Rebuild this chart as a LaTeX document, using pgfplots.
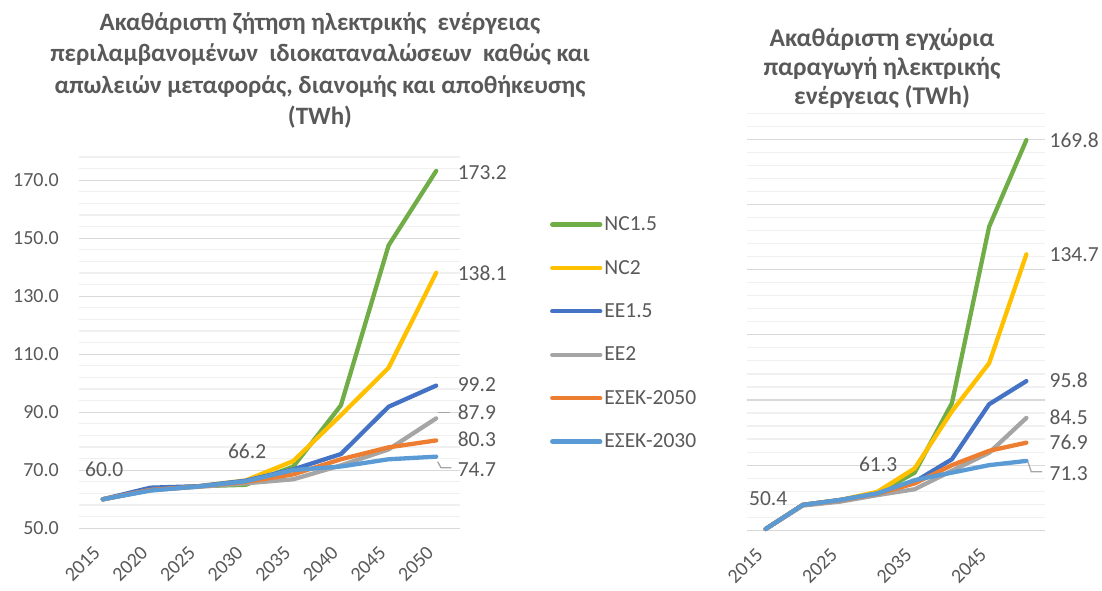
\documentclass[border=0pt]{standalone}
\usepackage{fontspec}
\setmainfont{Carlito}
\usepackage{pgfplots}
\pgfplotsset{compat=1.18}
\definecolor{txt}{HTML}{595959}
\definecolor{gmaj}{HTML}{D9D9D9}
\definecolor{gmin}{HTML}{F0F0F0}
\definecolor{cG}{HTML}{70AD47}
\definecolor{cY}{HTML}{FFC000}
\definecolor{cB}{HTML}{4472C4}
\definecolor{cGr}{HTML}{A5A5A5}
\definecolor{cO}{HTML}{ED7D31}
\definecolor{cLB}{HTML}{5B9BD5}
\definecolor{lead}{HTML}{A6A6A6}
\tikzset{dl/.style={font=\fontsize{21.5}{25}\selectfont, text=txt}}
\pgfplotsset{
  common/.style={
    anchor=south west, scale only axis,
    xmin=-0.5, xmax=7.5, ymin=50, ymax=178,
    axis line style={draw=none}, major tick length=0pt, minor tick length=0pt,
    ytick={50,70,...,170},
    minor ytick={54,58,62,66,74,78,82,86,94,98,102,106,114,118,122,126,134,138,142,146,154,158,162,166,174,178},
    ymajorgrids, yminorgrids,
    major grid style={draw=gmaj, line width=1.2pt},
    minor grid style={draw=gmin, line width=1.2pt},
    tick label style={font=\fontsize{20}{24}\selectfont, text=txt},
    x tick label style={anchor=east, inner sep=0pt, xshift=-6pt, yshift=-21pt, rotate=45},
    y tick label style={anchor=east, inner sep=0pt, xshift=-20pt},
    yticklabel style={/pgf/number format/.cd, fixed, fixed zerofill, precision=1, assume math mode=true},
    every axis plot/.append style={line width=4.3pt, line cap=round, line join=round, no marks},
    clip=false,
  },
}
\begin{document}
\begin{tikzpicture}
\path[use as bounding box] (0pt,0pt) rectangle (1102pt,590pt);
% left title
\node[font=\bfseries\fontsize{25}{31.5}\selectfont, text=txt, align=center, anchor=north] at (320pt,581pt)
 {Ακαθάριστη ζήτηση ηλεκτρικής\ \ ενέργειας\\ περιλαμβανομένων\ \ ιδιοκαταναλώσεων\ \ καθώς και\\ απωλειών μεταφοράς, διανομής και αποθήκευσης\\ (TWh)};
% right title
\node[font=\bfseries\fontsize{25.5}{29}\selectfont, text=txt, align=center, anchor=north] at (882pt,565pt)
 {Ακαθάριστη εγχώρια\\ παραγωγή ηλεκτρικής\\ ενέργειας (TWh)};
\begin{axis}[common, at={(79pt,61.7pt)}, width=381pt, height=371.3pt,
  xtick={0,...,7}, xticklabels={2015,2020,2025,2030,2035,2040,2045,2050},
  legend style={draw=none, fill=none, at={(1.236,0.845)}, anchor=north west, inner sep=0pt,
    font=\fontsize{21.5}{25}\selectfont, text=txt, row sep=24pt, cells={anchor=west}},
  legend image code/.code={\draw[line width=4.3pt, line cap=round] (0pt,0pt) -- (48pt,0pt);},
  ]
\addplot[cG] coordinates {(0,60.0) (1,63.3) (2,64.5) (3,65.0) (4,71.3) (5,92.4) (6,147.5) (7,173.2)};
\addplot[cY] coordinates {(0,60.0) (1,63.3) (2,64.5) (3,66.5) (4,73.2) (5,89.0) (6,105.3) (7,138.1)};
\addplot[cB] coordinates {(0,60.0) (1,64.0) (2,64.5) (3,66.4) (4,70.3) (5,75.6) (6,91.9) (7,99.2)};
\addplot[cGr] coordinates {(0,60.0) (1,63.2) (2,64.3) (3,65.5) (4,66.9) (5,71.7) (6,77.2) (7,87.9)};
\addplot[cO] coordinates {(0,60.0) (1,63.2) (2,64.4) (3,66.0) (4,68.6) (5,73.8) (6,77.9) (7,80.3)};
\addplot[cLB] coordinates {(0,60.0) (1,63.0) (2,64.4) (3,66.2) (4,70.1) (5,71.3) (6,73.8) (7,74.7)};
\legend{NC1.5,NC2,EE1.5,EE2,ΕΣΕΚ-2050,ΕΣΕΚ-2030}
\node[dl] at (axis cs:0.03,70.2) {60.0};
\node[dl] at (axis cs:3.03,76.6) {66.2};
\node[dl, anchor=west, inner sep=0pt] at (axis cs:7.45,172.6) {173.2};
\node[dl, anchor=west, inner sep=0pt] at (axis cs:7.45,138.1) {138.1};
\node[dl, anchor=west, inner sep=0pt] at (axis cs:7.45,99.7) {99.2};
\node[dl, anchor=west, inner sep=0pt] at (axis cs:7.45,90.0) {87.9};
\node[dl, anchor=west, inner sep=0pt] at (axis cs:7.45,80.6) {80.3};
\node[dl, anchor=west, inner sep=0pt] at (axis cs:7.45,70.3) {74.7};
\draw[lead, line width=1.3pt] (axis cs:7.03,89.9) -- (axis cs:7.3,89.9);
\draw[lead, line width=1.3pt] (axis cs:7.03,73.0) -- (axis cs:7.1,70.9) -- (axis cs:7.32,70.9);
\end{axis}
\begin{axis}[common, at={(747pt,59.7pt)}, width=298pt, height=417pt,
  xtick={0,2,4,6}, xticklabels={2015,2025,2035,2045}, yticklabels={}]
\addplot[cG] coordinates {(0,50.4) (1,57.8) (2,59.3) (3,61.3) (4,67.7) (5,89.0) (6,143.2) (7,169.8)};
\addplot[cY] coordinates {(0,50.4) (1,57.8) (2,59.3) (3,61.8) (4,69.0) (5,86.5) (6,101.3) (7,134.7)};
\addplot[cB] coordinates {(0,50.4) (1,57.8) (2,59.3) (3,61.3) (4,64.9) (5,71.8) (6,88.7) (7,95.8)};
\addplot[cGr] coordinates {(0,50.4) (1,57.6) (2,58.8) (3,60.8) (4,62.6) (5,68.3) (6,73.8) (7,84.5)};
\addplot[cO] coordinates {(0,50.4) (1,57.8) (2,59.2) (3,61.2) (4,64.4) (5,70.0) (6,74.4) (7,76.9)};
\addplot[cLB] coordinates {(0,50.4) (1,57.8) (2,59.3) (3,61.3) (4,65.4) (5,67.7) (6,70.0) (7,71.3)};
\node[dl] at (axis cs:0.07,59.6) {50.4};
\node[dl] at (axis cs:3.02,70.4) {61.3};
\node[dl, anchor=west, inner sep=0pt] at (axis cs:7.62,169.6) {169.8};
\node[dl, anchor=west, inner sep=0pt] at (axis cs:7.62,134.7) {134.7};
\node[dl, anchor=west, inner sep=0pt] at (axis cs:7.62,96.0) {95.8};
\node[dl, anchor=west, inner sep=0pt] at (axis cs:7.62,84.7) {84.5};
\node[dl, anchor=west, inner sep=0pt] at (axis cs:7.62,77.0) {76.9};
\node[dl, anchor=west, inner sep=0pt] at (axis cs:7.62,67.5) {71.3};
\draw[lead, line width=1.3pt] (axis cs:7.04,71.0) -- (axis cs:7.13,68.0) -- (axis cs:7.42,68.0);
\end{axis}
\end{tikzpicture}
\end{document}
